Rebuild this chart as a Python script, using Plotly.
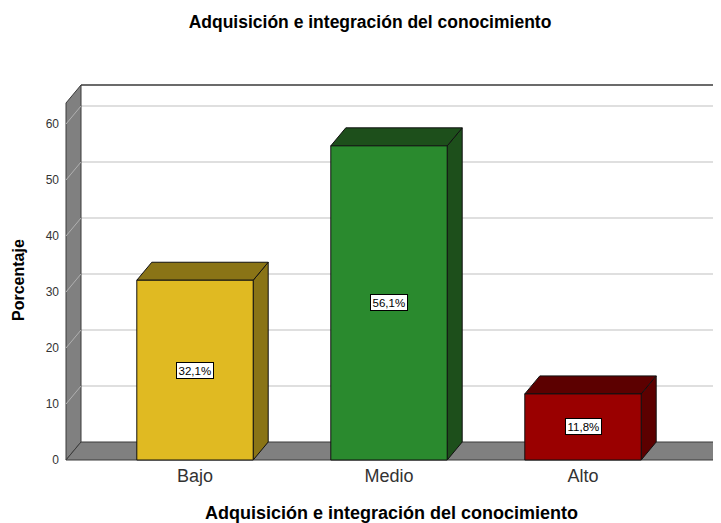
import plotly.graph_objects as go

# data
categories = ["Bajo", "Medio", "Alto"]
percentages = [32.1, 56.1, 11.8]
labels = ["32,1%", "56,1%", "11,8%"]
front_colors = ["#E0BA22", "#2A8A2E", "#9A0000"]
shade_colors = ["#8A7416", "#1D4F1B", "#5C0000"]
y_ticks = [0, 10, 20, 30, 40, 50, 60]

OFF = 8                 # page body margin added by the browser
W, H = 721 - OFF, 523 - OFF
# pixel geometry of the 3D frame (reference pixels)
PX_CAT = 194.0          # pixels per category
PX_UNIT = 5.6           # pixels per percent
X_ZERO_PX = 195.0 - OFF
Y_ZERO_PX = 460.0 - OFF
DX = 15 / PX_CAT        # depth offset in data units
DY = 18 / PX_UNIT
BAR_W = 0.6

M_L, M_R, M_T, M_B = 56, 0, 72, 60
x_lo = (M_L - X_ZERO_PX) / PX_CAT
x_hi = (W - M_R - X_ZERO_PX) / PX_CAT
y_lo = -(H - M_B - Y_ZERO_PX) / PX_UNIT
y_hi = (Y_ZERO_PX - M_T) / PX_UNIT

X0 = (66 - OFF - X_ZERO_PX) / PX_CAT     # left wall front edge
XF = (713 - OFF - X_ZERO_PX) / PX_CAT    # floor front right end
YTOP = 63.75                              # top of frame on front plane
XR = x_hi + 0.2

EDGE = "#3a3a3a"
WALL = "#808080"
GRID = "#d4d4d4"
FONT = "Liberation Sans, Arial"


def poly(xs, ys, fill, line=EDGE, width=1):
    return go.Scatter(x=xs + [xs[0]], y=ys + [ys[0]], mode="lines", fill="toself",
                      fillcolor=fill, line=dict(color=line, width=width),
                      hoverinfo="skip", showlegend=False)


def seg(xs, ys, color, width=1):
    return go.Scatter(x=xs, y=ys, mode="lines", line=dict(color=color, width=width),
                      hoverinfo="skip", showlegend=False)


fig = go.Figure()

# back wall
fig.add_trace(poly([X0 + DX, XR, XR, X0 + DX], [DY, DY, YTOP + DY, YTOP + DY], "white", line="rgba(0,0,0,0)"))
for t in y_ticks[1:]:
    fig.add_trace(seg([X0 + DX, XR], [t + DY, t + DY], GRID, 1.5))
fig.add_trace(seg([X0 + DX, XR], [YTOP + DY, YTOP + DY], EDGE, 1.5))

# left wall
fig.add_trace(poly([X0, X0 + DX, X0 + DX, X0], [0, DY, YTOP + DY, YTOP], WALL))
for t in y_ticks[1:]:
    fig.add_trace(seg([X0, X0 + DX], [t, t + DY], "#b0b0b0", 1))

# floor
fig.add_trace(poly([X0, XF, XF + DX, X0 + DX], [0, 0, DY, DY], WALL))

# bars: side, top, front faces
for i, (v, fc, sc) in enumerate(zip(percentages, front_colors, shade_colors)):
    l, r = i - BAR_W / 2, i + BAR_W / 2
    fig.add_trace(poly([r, r + DX, r + DX, r], [0, DY, v + DY, v], sc, line="#111111"))
    fig.add_trace(poly([l, r, r + DX, l + DX], [v, v, v + DY, v + DY], sc, line="#111111"))
    fig.add_trace(poly([l, r, r, l], [0, 0, v, v], fc, line="#111111"))

annotations = []
for i, (v, t) in enumerate(zip(percentages, labels)):
    annotations.append(dict(x=i, y=v / 2, xref="x", yref="y", text=t, showarrow=False,
                            font=dict(size=11.5, color="black", family=FONT),
                            bgcolor="white", bordercolor="black", borderwidth=1, borderpad=1.5))


def px_paper(px, py):
    px, py = px - OFF, py - OFF
    return ((px - M_L) / (W - M_L - M_R), 1 - (py - M_T) / (H - M_T - M_B))


ax, ay = px_paper(391, 513)
annotations.append(dict(x=ax, y=ay, xref="paper", yref="paper",
                        text="<b>Adquisición e integración del conocimiento</b>",
                        showarrow=False, xanchor="center", yanchor="middle",
                        font=dict(size=18, color="black", family=FONT)))
bx, by = px_paper(18, 280)
annotations.append(dict(x=bx, y=by, xref="paper", yref="paper", text="<b>Porcentaje</b>", textangle=-90,
                        showarrow=False, xanchor="center", yanchor="middle",
                        font=dict(size=16, color="black", family=FONT)))

fig.update_layout(
    width=W, height=H,
    title=dict(text="<b>Adquisición e integración del conocimiento</b>", x=(370 - OFF) / W, xanchor="center",
               y=1 - (22 - OFF) / H, yanchor="middle",
               font=dict(size=17.5, color="black", family=FONT)),
    margin=dict(l=M_L, r=M_R, t=M_T, b=M_B),
    plot_bgcolor="white", paper_bgcolor="white",
    showlegend=False,
    annotations=annotations,
    xaxis=dict(range=[x_lo, x_hi], tickvals=[0, 1, 2], ticktext=categories, showgrid=False,
               zeroline=False, showline=False, ticks="", fixedrange=True,
               tickfont=dict(size=18, color="#333333", family=FONT)),
    yaxis=dict(range=[y_lo, y_hi], tickvals=y_ticks, showgrid=False, zeroline=False,
               showline=False, ticks="", fixedrange=True, ticklabelstandoff=4,
               tickfont=dict(size=12, color="#333333", family=FONT)),
)

fig.write_html("out.html")
